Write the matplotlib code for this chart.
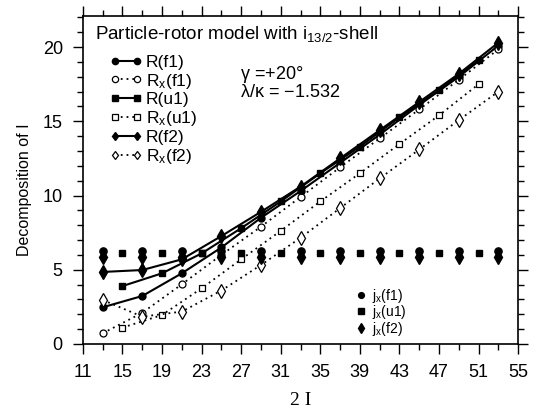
import numpy as np
import matplotlib
matplotlib.use('Agg')
import matplotlib.pyplot as plt

plt.rcParams['font.family'] = ['Liberation Sans', 'DejaVu Sans']
plt.rcParams['mathtext.fontset'] = 'custom'
plt.rcParams['mathtext.rm'] = 'Liberation Sans'
plt.rcParams['mathtext.it'] = 'Liberation Sans'

# data
x_f = [13, 17, 21, 25, 29, 33, 37, 41, 45, 49, 53]
x_u = [15, 19, 23, 27, 31, 35, 39, 43, 47, 51]

R_f1 = [2.47, 3.23, 4.76, 6.5, 8.5, 10.3, 12.2, 14.1, 16.1, 18.0, 20.1]
Rx_f1 = [0.72, 2.1, 4.02, 6.0, 7.9, 9.9, 11.9, 13.85, 15.8, 17.8, 19.85]
R_u1 = [3.9, 4.76, 6.1, 7.8, 9.6, 11.5, 13.3, 15.27, 17.1, 19.1]
Rx_u1 = [1.1, 1.95, 3.75, 5.7, 7.62, 9.6, 11.5, 13.47, 15.4, 17.5]
R_f2 = [4.85, 4.98, 5.7, 7.27, 8.9, 10.6, 12.5, 14.4, 16.3, 18.2, 20.3]
Rx_f2 = [2.96, 1.84, 2.18, 3.6, 5.32, 7.15, 9.15, 11.15, 13.1, 15.08, 17.0]

jx_f1 = [6.28] * len(x_f)
jx_u1 = [6.15] * len(x_u)
jx_f2 = [5.88] * len(x_f)

fig = plt.figure(figsize=(5.42, 4.08), dpi=100)
ax = fig.add_axes([0.153, 0.157, 0.803, 0.804])

solid = dict(color='black', lw=1.5, ls='-')
dotted = dict(color='black', lw=1.3, ls=(0, (1, 2.2)), mfc='white', mew=0.9)

l1, = ax.plot(x_f, R_f1, marker='o', ms=5, label='R(f1)', **solid)
l2, = ax.plot(x_f, Rx_f1, marker='o', ms=5, label=r'R$_x$(f1)', **dotted)
l3, = ax.plot(x_u, R_u1, marker='s', ms=4.5, label='R(u1)', **solid)
l4, = ax.plot(x_u, Rx_u1, marker='s', ms=4.2, label=r'R$_x$(u1)', **dotted)
l5, = ax.plot(x_f, R_f2, marker='d', ms=7, label='R(f2)', **solid)
l6, = ax.plot(x_f, Rx_f2, marker='d', ms=7, label=r'R$_x$(f2)', **dotted)

j1, = ax.plot(x_f, jx_f1, 'o', color='black', ms=5.2, label=r'j$_x$(f1)')
j2, = ax.plot(x_u, jx_u1, 's', color='black', ms=4.8, label=r'j$_x$(u1)')
j3, = ax.plot(x_f, jx_f2, 'd', color='black', ms=7, label=r'j$_x$(f2)')

ax.set_xlim(11, 55)
ax.set_ylim(0, 22.1)
ax.set_xticks(np.arange(11, 56, 4))
ax.set_xticks(np.arange(13, 55, 4), minor=True)
ax.set_yticks([0, 5, 10, 15, 20])
ax.set_yticks(np.arange(1, 23, 1), minor=True)
ax.tick_params(which='both', direction='out', top=True, right=True,
               labelsize=13, width=1.0)
ax.tick_params(which='major', length=7, pad=7.5)
ax.tick_params(which='minor', length=4)
for s in ax.spines.values():
    s.set_linewidth(1.2)

ax.set_xlabel('2 I', family='Liberation Serif', fontsize=14, labelpad=8)
ax.set_ylabel('Decomposition of I', fontsize=11.5)
ax.yaxis.set_label_coords(-0.118, 0.47)

ax.text(0.028, 0.975, r'Particle-rotor model with i$_{13/2}$-shell',
        transform=ax.transAxes, fontsize=13.5, va='top')
ax.text(0.362, 0.822, r'$\gamma$ =+20°', transform=ax.transAxes,
        fontsize=13, va='center')
ax.text(0.362, 0.765, r'$\lambda/\kappa$ = $-$1.532', transform=ax.transAxes,
        fontsize=13, va='center')

leg1 = ax.legend(handles=[l1, l2, l3, l4, l5, l6], loc='upper left',
                 bbox_to_anchor=(0.062, 0.882), frameon=False, fontsize=12.5,
                 handlelength=1.85, handletextpad=0.2, labelspacing=0.1,
                 numpoints=2, borderaxespad=0, borderpad=0)
ax.add_artist(leg1)
for h in leg1.legend_handles:
    h.set_markersize(4.5)
ax.legend(handles=[j1, j2, j3], loc='upper left', bbox_to_anchor=(0.63, 0.175),
          frameon=False, fontsize=10, handlelength=0.6, handletextpad=0.45,
          labelspacing=-0.1, numpoints=1, borderaxespad=0, borderpad=0,
          markerscale=0.8)

fig.savefig('out.png', dpi=100)
